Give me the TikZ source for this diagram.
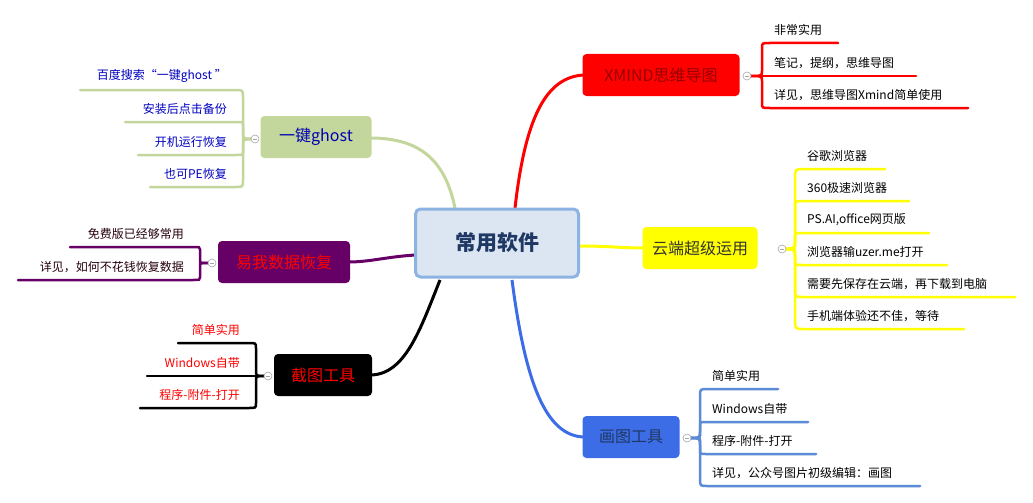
\documentclass[tikz,border=0pt]{standalone}
\usepackage{fontspec}
\setmainfont{Noto Sans CJK SC}
\begin{document}
\begin{tikzpicture}[x=1pt,y=-1pt,
 topic/.style={rounded corners=4pt,minimum height=42pt,font=\fontsize{16}{19}\selectfont,inner sep=0pt},
 conn/.style={line width=3pt},
 sub/.style={line width=2.5pt,line cap=round},
 ctext/.style={font=\fontsize{12}{14}\selectfont,inner sep=0pt},
 knob/.style={circle,draw=gray!70,fill=white,line width=0.6pt,minimum size=8pt,inner sep=0pt}]
\definecolor{cborder}{HTML}{8DB3E2}\definecolor{cfill}{HTML}{DCE6F2}
\definecolor{cblue}{HTML}{3C6DE6}\definecolor{cgreen}{HTML}{C3D69B}
\definecolor{cpurple}{HTML}{660066}\definecolor{ctxt}{HTML}{1F3864}
\definecolor{cyel}{HTML}{FFFF00}\definecolor{lblue}{HTML}{5B8AD6}
\useasboundingbox (0,0) rectangle (1033,503);
\fill[white] (0,0) rectangle (1033,503);
\coordinate (cx) at (515,208);
\coordinate (cy) at (578,246);
\coordinate (cz) at (512,280);
\coordinate (cg) at (455,208);
\coordinate (cp) at (415,255);
\coordinate (ck) at (440,280);
\draw[conn,red] (cx) .. controls (525,120) and (545,76) .. (585,75);
\draw[conn,cyel] (cy) .. controls (610,246) and (620,248) .. (645,248);
\draw[conn,cblue] (cz) .. controls (525,380) and (545,437) .. (585,437);
\draw[conn,cgreen] (cg) .. controls (445,160) and (420,138) .. (370,138);
\draw[conn,cpurple] (cp) .. controls (385,257) and (370,262) .. (348,262);
\draw[conn,black] (ck) .. controls (420,330) and (405,375) .. (370,375);
\node[draw=cborder,fill=cfill,line width=3pt,rounded corners=5pt,minimum width=163pt,minimum height=68pt,font=\fontsize{21}{25}\selectfont\bfseries,text=ctxt] (c) at (497,243) {常用软件};
% topics
\node[topic,fill=red,text={rgb,255:red,150;green,0;blue,0},minimum width=157pt] (xm) at (661,75) {XMIND思维导图};
\node[topic,fill=cyel,text=black!80,minimum width=115pt] (yd) at (700,248) {云端超级运用};
\node[topic,fill=cblue,text=ctxt,minimum width=97pt] (ht) at (631,437) {画图工具};
\node[topic,fill=cgreen,text=blue!70!black,minimum width=111pt] (gh) at (316,137) {一键ghost};
\node[topic,fill=cpurple,text=red,minimum width=132pt] (yw) at (284,262) {易我数据恢复};
\node[topic,fill=black,text=red,minimum width=98pt] (jt) at (323,375) {截图工具};
\newcommand\rkids[5]{%
 \foreach \ly/\le/\lt in {#5}{%
  \draw[sub,#4] (#1,#2) .. controls ({#3},{#2}) and ({#3},{#2}) .. ({#3},{#2+(\ly-#2)*0.15}) -- ({#3},{\ly-(\ly-#2)*0.15}) .. controls ({#3},{\ly}) and ({#3},{\ly}) .. ({#3+8},{\ly}) -- ({\le},{\ly});
  \node[ctext,anchor=south west] at ({#3+12},{\ly-7}) {\lt};}}
\newcommand\lkids[6]{%
 \foreach \ly/\le/\lt in {#5}{%
  \draw[sub,#4] (#1,#2) .. controls ({#3},{#2}) and ({#3},{#2}) .. ({#3},{#2+(\ly-#2)*0.15}) -- ({#3},{\ly-(\ly-#2)*0.15}) .. controls ({#3},{\ly}) and ({#3},{\ly}) .. ({#3-8},{\ly}) -- ({\le},{\ly});
  \node[ctext,anchor=south east,text=#6] at ({#3-16},{\ly-7}) {\lt};}}
\rkids{747}{76}{762}{red}{43/838/非常实用,76/916/笔记，提纲，思维导图,108/968/详见，思维导图Xmind简单使用}
\rkids{782}{249}{795}{cyel}{169/885/谷歌浏览器,201/909/360极速浏览器,233/929/{PS.AI,office网页版},265/947/浏览器输uzer.me打开,297/1015/需要先保存在云端，再下载到电脑,329/964/手机端体验还不佳，等待}
\rkids{687}{438}{700}{lblue}{389/778/简单实用,422/808/Windows自带,454/816/程序-附件-打开,486/920/详见，公众号图片初级编辑：画图}
\lkids{255}{139}{243}{cgreen}{90/80/百度搜索“一键ghost ”,122/125/安装后点击备份,155/138/开机运行恢复,187/150/也可PE恢复}{blue!75!black}
\lkids{212}{263}{200}{cpurple}{247/70/免费版已经够常用,280/18/详见，如何不花钱恢复数据}{black!80!purple}
\lkids{268}{376}{256}{black}{343/178/简单实用,376/147/Windows自带,408/140/程序-附件-打开}{red}
\node[knob] (k1) at (747,76) {};\node[knob] (k2) at (782,249) {};\node[knob] (k3) at (687,438) {};
\node[knob] (k4) at (255,139) {};\node[knob] (k5) at (212,263) {};\node[knob] (k6) at (268,376) {};
\foreach \k in {k1,k2,k3,k4,k5,k6}{\draw[gray!70,line width=0.6pt] ([xshift=-2pt]\k.center) -- ([xshift=2pt]\k.center);}
\end{tikzpicture}
\end{document}
